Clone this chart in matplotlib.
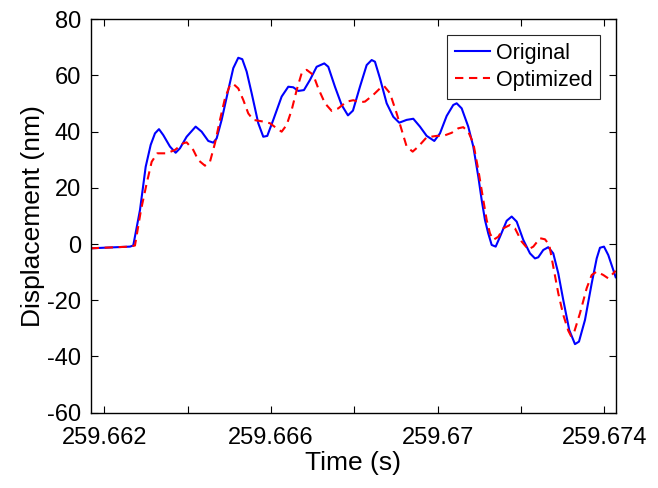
import matplotlib
matplotlib.use("Agg")
import matplotlib.pyplot as plt
import numpy as np

plt.rcParams["font.family"] = ["Liberation Sans", "DejaVu Sans"]
plt.rcParams["axes.unicode_minus"] = False

# time in ms after 259.660 s, displacement in nm
t_orig = [1.674, 2.617, 2.696, 2.857, 2.994, 3.114, 3.217, 3.313, 3.416, 3.577,
          3.713, 3.817, 3.977, 4.193, 4.337, 4.496, 4.616, 4.697, 4.817, 4.976,
          5.096, 5.216, 5.312, 5.417, 5.537, 5.696, 5.816, 5.912, 6.056, 6.257,
          6.416, 6.536, 6.656, 6.792, 6.936, 7.097, 7.280, 7.376, 7.536, 7.697,
          7.848, 7.968, 8.136, 8.297, 8.417, 8.496, 8.616, 8.777, 8.936, 9.079,
          9.257, 9.416, 9.576, 9.737, 9.920, 10.056, 10.217, 10.375, 10.457, 10.577,
          10.735, 10.856, 10.976, 11.057, 11.136, 11.215, 11.297, 11.393, 11.496, 11.657,
          11.777, 11.897, 12.055, 12.216, 12.336, 12.415, 12.535, 12.655, 12.775, 12.895,
          13.015, 13.159, 13.296, 13.392, 13.536, 13.697, 13.817, 13.896, 13.992, 14.095,
          14.215, 14.273]
d_orig = [-1.5, -0.9, -0.5, 12.1, 27.5, 35.3, 39.4, 40.9, 38.8, 34.7,
          32.5, 34.1, 38.2, 41.8, 40.0, 36.7, 36.1, 37.6, 44.2, 54.8,
          62.6, 66.3, 65.8, 61.4, 53.7, 43.0, 38.2, 38.5, 44.2, 52.5,
          56.0, 55.8, 54.5, 54.8, 58.4, 63.1, 64.3, 63.1, 56.0, 49.5,
          45.8, 47.5, 56.0, 63.7, 65.5, 64.9, 59.0, 50.1, 45.3, 43.2,
          44.2, 44.6, 41.8, 38.5, 36.7, 39.4, 45.6, 49.5, 50.1, 48.3,
          41.8, 34.7, 24.0, 15.7, 8.6, 3.8, -0.3, -0.9, 2.6, 8.3,
          9.8, 8.0, 1.5, -3.3, -5.1, -4.7, -2.1, -1.1, -3.3, -10.4,
          -19.9, -30.6, -35.6, -34.7, -27.0, -14.0, -5.1, -1.3, -0.9, -3.9,
          -9.2, -11.8]

t_opt = [1.674, 2.617, 2.737, 2.881, 3.018, 3.138, 3.272, 3.497, 3.697, 3.896,
         3.977, 4.136, 4.256, 4.417, 4.537, 4.657, 4.777, 4.897, 5.017, 5.096,
         5.216, 5.336, 5.456, 5.576, 5.816, 5.977, 6.137, 6.257, 6.377, 6.497,
         6.617, 6.737, 6.857, 7.016, 7.136, 7.297, 7.457, 7.616, 7.817, 7.976,
         8.136, 8.256, 8.456, 8.616, 8.712, 8.856, 9.017, 9.137, 9.257, 9.401,
         9.536, 9.737, 9.977, 10.136, 10.337, 10.495, 10.615, 10.735, 10.856, 10.976,
         11.096, 11.177, 11.256, 11.335, 11.456, 11.575, 11.736, 11.856, 12.017, 12.176,
         12.296, 12.456, 12.576, 12.679, 12.775, 12.895, 13.015, 13.135, 13.200, 13.279,
         13.416, 13.577, 13.697, 13.817, 13.975, 14.095, 14.177, 14.273]
d_opt = [-1.5, -0.9, -0.5, 12.1, 21.6, 29.3, 32.3, 32.3, 33.5, 35.9,
         36.2, 33.5, 29.9, 27.9, 29.3, 35.9, 44.2, 51.9, 56.6, 57.0,
         55.4, 51.3, 46.5, 44.2, 43.6, 43.0, 41.2, 40.0, 42.4, 47.7,
         54.8, 60.8, 62.0, 60.2, 55.4, 50.1, 47.4, 48.3, 50.7, 51.2,
         50.5, 50.7, 53.1, 55.4, 56.3, 53.7, 46.5, 40.6, 34.7, 32.9,
         34.7, 38.0, 38.5, 38.5, 39.6, 41.2, 41.6, 40.0, 35.9, 26.4,
         15.7, 8.6, 3.8, 1.5, 2.6, 5.6, 6.8, 5.6, 0.9, -1.9,
         -0.9, 2.1, 1.7, -0.3, -8.0, -17.5, -25.2, -30.8, -32.7, -31.2,
         -24.6, -15.7, -11.0, -9.8, -11.0, -12.2, -11.0, -9.5]

x_ticks = [259.662, 259.664, 259.666, 259.668, 259.670, 259.672, 259.674]
x_tick_labels = ["259.662", "", "259.666", "", "259.67", "", "259.674"]
y_ticks = [-60, -40, -20, 0, 20, 40, 60, 80]

T0 = 259.660
x_orig = T0 + np.array(t_orig) / 1000.0
x_opt = T0 + np.array(t_opt) / 1000.0

fig = plt.figure(figsize=(6.58, 4.88), dpi=100)
ax = fig.add_axes([0.1378, 0.1543, 0.7979, 0.8062])

ax.plot(x_orig, d_orig, color="#0000ff", lw=1.5, label="Original")
ax.plot(x_opt, d_opt, color="#ff0000", lw=1.5, ls=(0, (4, 2.7)), label="Optimized")

ax.set_xlim(x_orig[0], x_orig[-1])
ax.set_ylim(-60, 80)
ax.set_xticks(x_ticks)
ax.set_xticklabels(x_tick_labels)
ax.set_yticks(y_ticks)
ax.tick_params(direction="in", length=5, width=0.8, top=True, right=True,
               labelsize=17, colors="black")
ax.tick_params(axis="x", pad=10)
ax.tick_params(axis="y", pad=7)
for s in ax.spines.values():
    s.set_linewidth(1.0)

ax.set_xlabel("Time (s)", fontsize=19, labelpad=2)
ax.set_ylabel("Displacement (nm)", fontsize=19, labelpad=1)

leg = ax.legend(loc="upper right", bbox_to_anchor=(0.97, 0.96), fontsize=15.5,
                fancybox=False, framealpha=1, edgecolor="#262626",
                handlelength=1.65, handletextpad=0.25, borderpad=0.35,
                labelspacing=0.3, borderaxespad=0)
leg.get_frame().set_linewidth(0.8)

fig.savefig("out.png", dpi=100)
